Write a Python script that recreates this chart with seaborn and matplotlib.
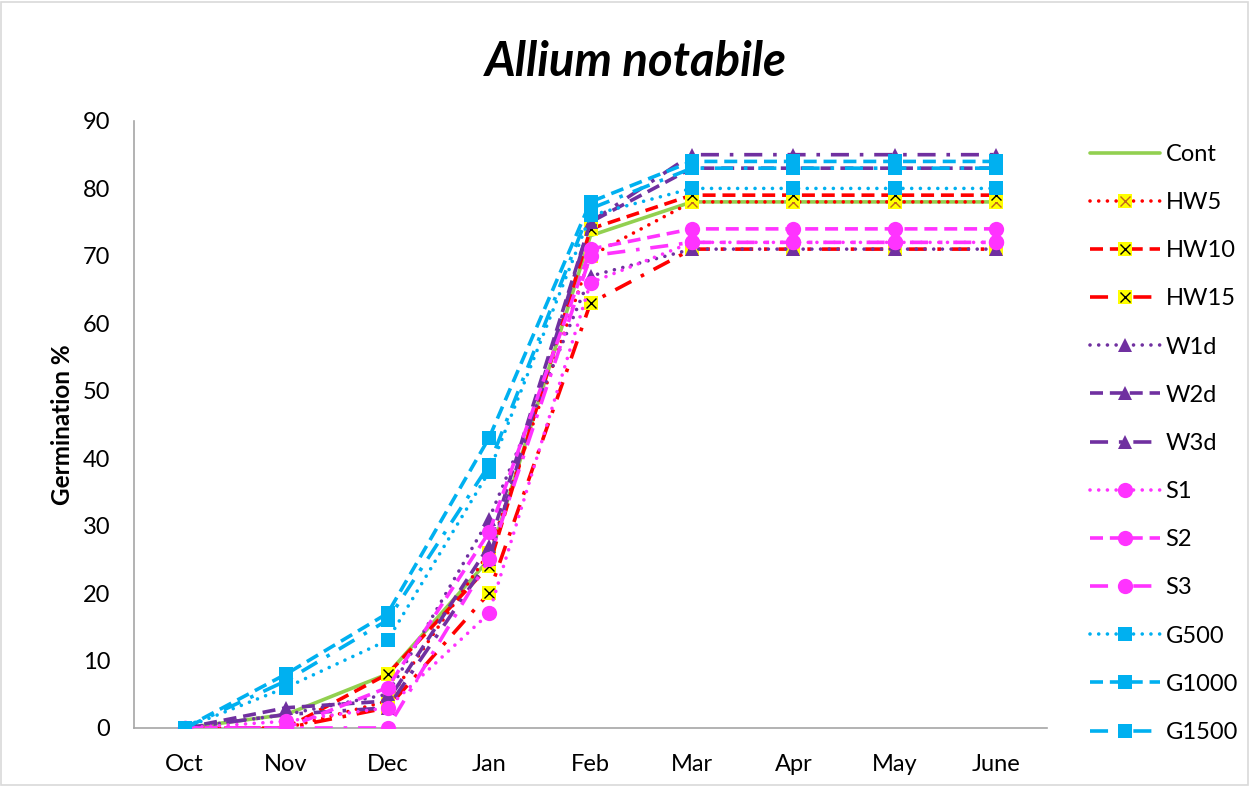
import matplotlib
matplotlib.use("Agg")
import matplotlib.pyplot as plt
import seaborn as sns
from matplotlib.lines import Line2D
from matplotlib.legend_handler import HandlerTuple
from matplotlib.patches import Rectangle

sns.set_theme(style="white")
plt.rcParams["font.family"] = ["Lato", "DejaVu Sans"]
plt.rcParams["text.color"] = "black"
plt.rcParams["axes.labelcolor"] = "black"

# Germination (%) per month for each seed treatment
months = ["Oct", "Nov", "Dec", "Jan", "Feb", "Mar", "Apr", "May", "June"]
cont = [0, 2, 8, 25, 73, 78, 78, 78, 78]
hw5 = [0, 0, 4, 26, 70, 78, 78, 78, 78]
hw10 = [0, 0, 8, 24, 74, 79, 79, 79, 79]
hw15 = [0, 0, 3, 20, 63, 71, 71, 71, 71]
w1d = [0, 2, 5, 31, 67, 71, 71, 71, 71]
w2d = [0, 3, 4, 27, 75, 83, 83, 83, 83]
w3d = [0, 2, 3, 25, 75, 85, 85, 85, 85]
s1 = [0, 1, 3, 17, 66, 72, 72, 72, 72]
s2 = [0, 0, 6, 29, 71, 74, 74, 74, 74]
s3 = [0, 0, 0, 25, 70, 72, 72, 72, 72]
g500 = [0, 6, 13, 38, 76, 80, 80, 80, 80]
g1000 = [0, 8, 17, 43, 78, 84, 84, 84, 84]
g1500 = [0, 7, 16, 39, 77, 83, 83, 83, 83]
yticks = [0, 10, 20, 30, 40, 50, 60, 70, 80, 90]

GREEN = "#92D050"
RED = "#FF0000"
PURPLE = "#7030A0"
PINK = "#FF33FF"
CYAN = "#00B0F0"
YELLOW = "#FFFF00"

DOT = (0, (0.01, 2.4))
DASH = (0, (3.6, 1.9))
LDASHDOT = (0, (5.0, 3.0, 1.0, 3.0))

# label, values, colour, line style, marker, cross colour (for yellow boxed crosses)
series = [
    ("Cont", cont, GREEN, "-", None, None),
    ("HW5", hw5, RED, DOT, "s", "#C0661C"),
    ("HW10", hw10, RED, DASH, "s", "black"),
    ("HW15", hw15, RED, LDASHDOT, "s", "black"),
    ("W1d", w1d, PURPLE, DOT, "^", None),
    ("W2d", w2d, PURPLE, DASH, "^", None),
    ("W3d", w3d, PURPLE, LDASHDOT, "^", None),
    ("S1", s1, PINK, DOT, "o", None),
    ("S2", s2, PINK, DASH, "o", None),
    ("S3", s3, PINK, LDASHDOT, "o", None),
    ("G500", g500, CYAN, DOT, "s", None),
    ("G1000", g1000, CYAN, DASH, "s", None),
    ("G1500", g1500, CYAN, LDASHDOT, "s", None),
]

LW = 2.6
MSIZE = {"s": 10, "^": 10, "o": 11}

fig = plt.figure(figsize=(12.5, 7.87), dpi=100)
ax = fig.add_axes([0.1072, 0.075, 0.7304, 0.7713])

xpos = list(range(len(months)))
handles = []
for i, (label, vals, color, ls, marker, xcol) in enumerate(series):
    z = 3 + 2 * i
    kw = dict(color=color, linestyle=ls, linewidth=LW, zorder=z,
              dash_capstyle="round" if ls == DOT else "butt")
    if marker is not None:
        face = YELLOW if xcol else color
        kw.update(marker=marker, markersize=MSIZE[marker],
                  markerfacecolor=face, markeredgecolor=face,
                  markeredgewidth=0)
    sns.lineplot(x=xpos, y=vals, ax=ax, sort=False, **kw)
    h = Line2D([], [], **{k: v for k, v in kw.items() if k != "zorder"})
    if xcol:
        sns.lineplot(x=xpos, y=vals, ax=ax, sort=False, linestyle="none",
                     marker="x", markersize=7, markeredgecolor=xcol,
                     markeredgewidth=1.0, color=xcol, zorder=z + 1)
        hx = Line2D([], [], linestyle="none", marker="x", markersize=7,
                    markeredgecolor=xcol, markeredgewidth=1.0)
        handles.append((h, hx))
    else:
        handles.append(h)

ax.set_xlim(-0.5, len(months) - 0.5)
ax.set_ylim(0, 90)
ax.set_xticks(xpos)
ax.set_xticklabels(months)
ax.set_yticks(yticks)
ax.tick_params(axis="both", length=0, labelsize=17, colors="black")
ax.tick_params(axis="y", pad=17)
ax.tick_params(axis="x", pad=19)
ax.set_xlabel("")
ax.set_ylabel("Germination %", fontsize=17.5, fontweight="bold", labelpad=6,
              color="black")
ax.grid(False)
for side in ["top", "right"]:
    ax.spines[side].set_visible(False)
for side in ["left", "bottom"]:
    ax.spines[side].set_color("#A6A6A6")
    ax.spines[side].set_linewidth(1.2)
ax.spines["bottom"].set_zorder(1)

fig.text(0.509, 0.921, "Allium notabile", fontsize=34, fontweight="bold",
         fontstyle="italic", ha="center", va="center", color="black")

fig.legend(handles, [s[0] for s in series], loc="upper left",
           bbox_to_anchor=(1090 / 1250, 1 - 144 / 787), frameon=False,
           fontsize=17, handlelength=2.95, handletextpad=0.25,
           labelspacing=1.15, borderpad=0, borderaxespad=0,
           labelcolor="black",
           handler_map={tuple: HandlerTuple(ndivide=1, pad=0)})

fig.patches.append(Rectangle((0.001, 0.002), 0.997, 0.996, transform=fig.transFigure,
                             fill=False, edgecolor="#D9D9D9", linewidth=1.2))

fig.savefig("out.png", dpi=100)
